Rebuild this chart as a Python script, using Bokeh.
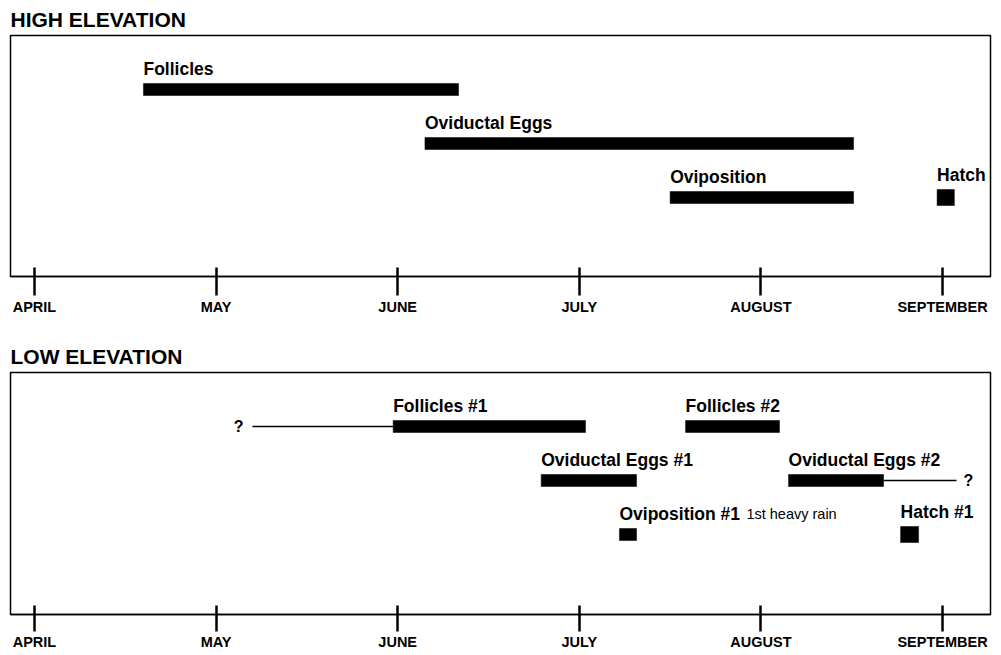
from bokeh.plotting import figure
from bokeh.models import Range1d, FixedTicker, ColumnDataSource
from bokeh.layouts import column
from bokeh.embed import file_html
from bokeh.resources import INLINE
from bokeh.core.properties import value

# ---------------- data ----------------
months = ["APRIL", "MAY", "JUNE", "JULY", "AUGUST", "SEPTEMBER"]
month_pos = [0, 1, 2, 3, 4, 5]          # month index (0 = 1 April)

# High elevation phases (time in months after 1 April)
high_phase = ["Follicles", "Oviductal Eggs", "Oviposition", "Hatch"]
high_start = [0.60, 2.15, 3.50, 4.97]
high_end = [2.335, 4.51, 4.51, 5.065]
high_lane = [1, 2, 3, 3]

# Low elevation phases
low_phase = ["Follicles #1", "Follicles #2", "Oviductal Eggs #1",
             "Oviductal Eggs #2", "Oviposition #1", "Hatch #1"]
low_start = [1.975, 3.585, 2.79, 4.152, 3.221, 4.769]
low_end = [3.034, 4.102, 3.315, 4.675, 3.315, 4.868]
low_lane = [1, 1, 2, 2, 3, 3]

# uncertain extensions ("?")
unc_from = [1.20, 4.675]
unc_to = [1.975, 5.077]
unc_lane = [1, 2]
unc_side = ["left", "right"]

# note
note_text = ["1st heavy rain"]
note_x = [3.92]
note_lane = [3]

# ---------------- style ----------------
FONT = "Liberation Sans"
PX = 54.0            # pixels per lane
X0, X1 = -0.132, 5.264
BAR_H = 12 / PX
HATCH_H = 16 / PX
GAP = 14.5 / PX


def panel(title_text, phases, starts, ends, lanes, fig_h, top_b, bot_b,
          frame_h, tick_out, standoff):
    p = figure(width=992, height=fig_h, x_range=Range1d(X0, X1),
               y_range=Range1d(frame_h / PX, 0), y_axis_type=None,
               output_backend="svg", toolbar_location=None,
               min_border_left=10, min_border_right=2,
               min_border_top=top_b, min_border_bottom=bot_b)
    p.title.text = title_text
    p.title.text_font = FONT
    p.title.text_font_size = "21px"
    p.title.text_font_style = "bold"
    p.title.text_color = "black"
    p.title.align = "left"
    p.title.standoff = 10
    p.title.offset = 0
    p.outline_line_color = "black"
    p.outline_line_width = 1.5
    p.outline_line_alpha = 1
    p.xgrid.visible = False
    p.ygrid.visible = False
    p.background_fill_color = "white"
    p.border_fill_color = "white"

    ax = p.xaxis[0]
    ax.ticker = FixedTicker(ticks=month_pos)
    ax.major_label_overrides = {i: m for i, m in zip(month_pos, months)}
    ax.axis_line_width = 1.5
    ax.axis_line_color = "black"
    ax.major_tick_in = 9
    ax.major_tick_out = tick_out
    ax.major_tick_line_width = 2.5
    ax.major_tick_line_color = "black"
    ax.minor_tick_line_color = None
    ax.major_label_standoff = standoff
    ax.major_label_text_font = FONT
    ax.major_label_text_font_size = "14.5px"
    ax.major_label_text_font_style = "bold"
    ax.major_label_text_color = "black"

    heights = [HATCH_H if ph.startswith("Hatch") else BAR_H for ph in phases]
    src = ColumnDataSource(dict(
        phase=phases, left=starts, right=ends,
        top=[l - h / 2 for l, h in zip(lanes, heights)],
        bottom=[l + h / 2 for l, h in zip(lanes, heights)],
        ly=[l - h / 2 - GAP for l, h in zip(lanes, heights)],
    ))
    p.quad(left="left", right="right", top="top", bottom="bottom", source=src,
           fill_color="black", line_color="black", line_width=0.5)
    p.text(x="left", y="ly", text="phase", source=src,
           text_font=value(FONT), text_font_size="17.5px", text_font_style="bold",
           text_color="black", text_baseline="alphabetic", text_align="left")
    return p


p1 = panel("HIGH ELEVATION", high_phase, high_start, high_end, high_lane,
           fig_h=332, top_b=35, bot_b=56, frame_h=241, tick_out=19, standoff=3)
p2 = panel("LOW ELEVATION", low_phase, low_start, low_end, low_lane,
           fig_h=321, top_b=40, bot_b=39, frame_h=242, tick_out=17, standoff=2)

# uncertain extensions
p2.segment(x0=unc_from, x1=unc_to, y0=unc_lane, y1=unc_lane,
           line_color="black", line_width=1.5)
q_left = [f for f, s in zip(unc_from, unc_side) if s == "left"]
q_left_y = [l for l, s in zip(unc_lane, unc_side) if s == "left"]
q_right = [t for t, s in zip(unc_to, unc_side) if s == "right"]
q_right_y = [l for l, s in zip(unc_lane, unc_side) if s == "right"]
p2.text(x=q_left, y=q_left_y, text=["?"] * len(q_left), x_offset=-9, y_offset=0,
        text_font=value(FONT), text_font_size="16px", text_font_style="bold",
        text_color="black", text_align="right", text_baseline="alphabetic")
p2.text(x=q_right, y=q_right_y, text=["?"] * len(q_right), x_offset=7, y_offset=0,
        text_font=value(FONT), text_font_size="16px", text_font_style="bold",
        text_color="black", text_align="left", text_baseline="alphabetic")

# note
note_y = [l - BAR_H / 2 - GAP for l in note_lane]
p2.text(x=note_x, y=note_y, text=note_text,
        text_font=value(FONT), text_font_size="14.5px", text_font_style="normal",
        text_color="black", text_align="left", text_baseline="alphabetic")

layout = column(p1, p2, spacing=0)
open("out.html", "w").write(file_html(layout, INLINE))
